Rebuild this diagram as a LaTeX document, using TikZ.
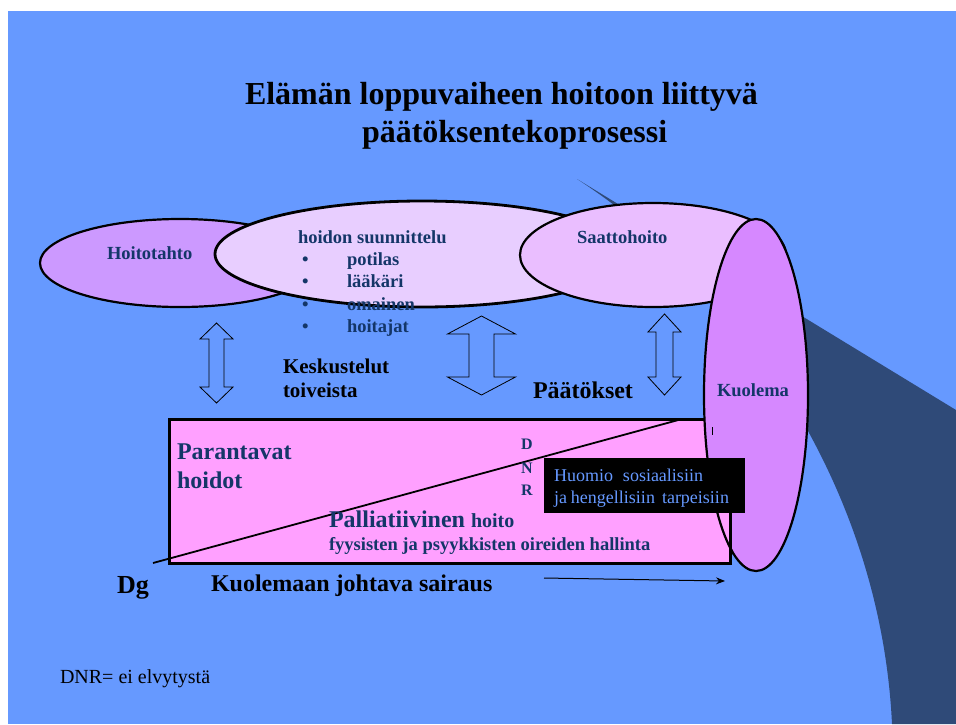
\documentclass[tikz,border=0pt]{standalone}
\usepackage{fontspec}
\setmainfont{Liberation Serif}
\usetikzlibrary{shapes.geometric,arrows.meta}
\definecolor{bgblue}{RGB}{102,153,255}
\definecolor{navyband}{RGB}{47,74,120}
\definecolor{txtnavy}{RGB}{20,54,104}
\definecolor{ellA}{RGB}{204,153,255}
\definecolor{ellB}{RGB}{232,206,255}
\definecolor{ellC}{RGB}{234,190,255}
\definecolor{ellD}{RGB}{214,136,255}
\definecolor{rectpink}{RGB}{255,160,255}
\newcommand{\fsz}[1]{\fontsize{#1}{#1}\selectfont}
\newcommand{\dbarrow}[6]{%
  \draw[arrowout] (#1,#2) -- ({#1+#4},{#2+#6}) -- ({#1+#5},{#2+#6}) -- ({#1+#5},{#3-#6}) -- ({#1+#4},{#3-#6}) -- (#1,#3) -- ({#1-#4},{#3-#6}) -- ({#1-#5},{#3-#6}) -- ({#1-#5},{#2+#6}) -- ({#1-#4},{#2+#6}) -- cycle;}
\begin{document}
\begin{tikzpicture}[x=1pt,y=-1pt,
  ell/.style={ellipse,draw=black,line width=2.2pt,inner sep=0pt},
  txt/.style={anchor=base west,inner sep=0pt,outer sep=0pt},
  etxt/.style={txt,text=txtnavy,font=\fsz{18.5}\bfseries},
  arrowout/.style={draw=black,line width=0.8pt,line join=miter},
  pinkrect/.style={draw=black,line width=2.8pt,fill=rectpink,minimum width=561pt,minimum height=144pt,inner sep=0pt,anchor=north west}]
\useasboundingbox (0,0) rectangle (956,724);
\fill[white] (0,0) rectangle (956,724);
\fill[bgblue] (8,11) rectangle (956,724);
% decorative band
\fill[navyband] (577,179) -- (956,410) -- (956,724) -- (892,724) .. controls (880,474) and (727,276) .. (577,179) -- cycle;
% title
\node[txt,font=\fsz{32}\bfseries] (title1) at (245,104) {Elämän loppuvaiheen hoitoon liittyvä};
\node[txt,font=\fsz{32}\bfseries] (title2) at (362,142) {päätöksentekoprosessi};
% ellipses
\node[ell,fill=ellA,minimum width=280pt,minimum height=88pt] (hoitotahto) at (180,263) {};
\node[etxt] (hoitotahtotxt) at (107,259) {Hoitotahto};
\node[ell,fill=ellB,line width=2.8pt,minimum width=414pt,minimum height=106pt] (suunn) at (422,254) {};
\node[etxt] (suunntxt) at (298,243) {hoidon suunnittelu};
\foreach \yy/\ww/\nm in {265/potilas/b1,287/lääkäri/b2,310/omainen/b3,332/hoitajat/b4}{
  \node[etxt] (\nm dot) at (302,\yy) {•};
  \node[etxt] (\nm) at (347,\yy) {\ww};
}
\node[ell,fill=ellC,minimum width=266pt,minimum height=104pt] (saatto) at (653,255) {};
\node[etxt] (saattotxt) at (577,243) {Saattohoito};
% rectangle
\node[pinkrect] (rect) at (168,418) {};
\coordinate (dgstart) at (153,563);
\coordinate (dgend) at (682,419);
\draw[line width=1.8pt] (dgstart) -- (dgend);
% Kuolema
\node[ell,fill=ellD,minimum width=104pt,minimum height=352pt] (kuolema) at (756,395) {};
\begin{scope}
  \clip (700,513) rectangle (733,566);
  \node[pinkrect] (rectlow) at (168,418) {};
  \node[ell,minimum width=104pt,minimum height=352pt] (kuolemaedge) at (756,395) {};
\end{scope}
\node[etxt] (kuolematxt) at (717,396) {Kuolema};
\coordinate (tickA) at (712,427);
\coordinate (tickB) at (712,435);
\draw[line width=0.8pt] (tickA) -- (tickB);
% black box
\node[fill=black,minimum width=201pt,minimum height=55pt,inner sep=0pt,anchor=north west] (huomio) at (544,458) {};
\node[txt,text=bgblue,font=\fsz{18}] (huomio1) at (554,481) {Huomio\hspace{10pt}sosiaalisiin};
\node[txt,text=bgblue,font=\fsz{18}] (huomio2) at (554,503) {ja\hspace{4pt}hengellisiin\hspace{7pt}tarpeisiin};
% double arrows
\dbarrow{216.5}{323}{403}{16.5}{7.5}{16}
\dbarrow{481.5}{316}{395}{34}{12.5}{18}
\dbarrow{664.5}{314}{395}{16.5}{8.5}{18}
% labels
\node[txt,font=\fsz{21}\bfseries] (kesk1) at (283,373) {Keskustelut};
\node[txt,font=\fsz{21}\bfseries] (kesk2) at (283,397) {toiveista};
\node[txt,font=\fsz{24}\bfseries] (paatokset) at (533,398) {Päätökset};
\node[txt,text=txtnavy,font=\fsz{24}\bfseries] (par1) at (177,459) {Parantavat};
\node[txt,text=txtnavy,font=\fsz{24}\bfseries] (par2) at (177,488) {hoidot};
\node[txt,text=txtnavy,font=\fsz{16}\bfseries] (dnrD) at (521,449) {D};
\node[txt,text=txtnavy,font=\fsz{16}\bfseries] (dnrN) at (521,473) {N};
\node[txt,text=txtnavy,font=\fsz{16}\bfseries] (dnrR) at (521,495) {R};
\node[txt,text=txtnavy,font=\bfseries] (pall) at (329,527) {\fsz{24}Palliatiivinen \fsz{20}hoito};
\node[txt,text=txtnavy,font=\fsz{18.5}\bfseries] (fyys) at (329,550) {fyysisten ja psyykkisten oireiden hallinta};
\node[txt,font=\fsz{24}\bfseries] (sairaus) at (211,591) {Kuolemaan johtava sairaus};
\coordinate (arrA) at (544,578);
\coordinate (arrB) at (725,581);
\draw[line width=1pt,-{Stealth[length=9pt,width=7pt]}] (arrA) -- (arrB);
\node[txt,font=\fsz{26}\bfseries] (dg) at (117,593) {Dg};
\node[txt,font=\fsz{20}] (dnrnote) at (60,683) {DNR= ei elvytystä};
\end{tikzpicture}
\end{document}
